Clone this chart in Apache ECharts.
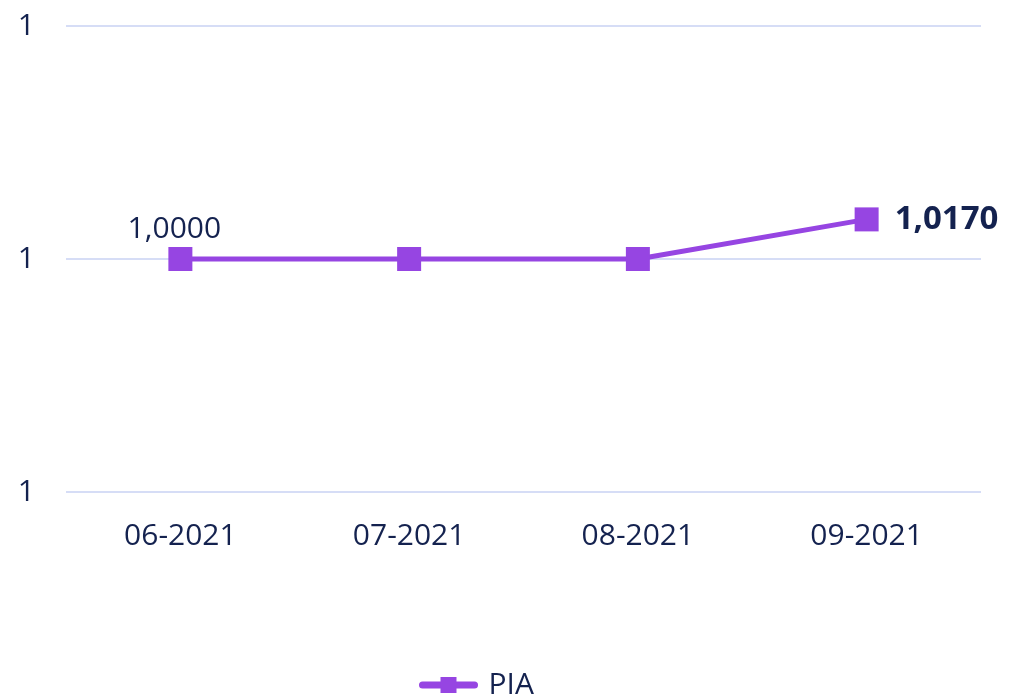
<!DOCTYPE html>
<html>
<head>
<meta charset="utf-8">
<script src="https://cdn.jsdelivr.net/npm/echarts@6/dist/echarts.min.js"></script>
<style>
  html, body { margin: 0; padding: 0; background: #fff; }
  #chart { width: 1010px; height: 697px; }
</style>
</head>
<body>
<div id="chart"></div>
<script>
const months = ['06-2021', '07-2021', '08-2021', '09-2021'];
const piaValues = [1.0, 1.0, 1.0, 1.017];

const purple = '#9645e2';
const ink = '#14224f';
const font = '"Open Sans", "Noto Sans", sans-serif';

const fmt = v => v.toFixed(4).replace('.', ',');

const chart = echarts.init(document.getElementById('chart'));

// only the first and the last point carry a label
const seriesData = piaValues.map((v, i) => {
    const item = { value: v };
    if (i === 0) {
        item.label = { show: true, position: 'top', distance: 3, offset: [-6, 0], fontWeight: 'normal' };
    } else if (i === piaValues.length - 1) {
        item.label = { show: true, position: 'right', distance: 16, fontWeight: 'bold', fontSize: 33 };
    }
    return item;
});

chart.setOption({
    animation: false,
    textStyle: { fontFamily: font, color: ink },
    grid: { left: 66, right: 29, top: 26, bottom: 205 },
    legend: {
        bottom: -8,
        left: 414,
        itemWidth: 52,
        itemHeight: 20,
        itemGap: 12,
        lineStyle: { width: 7, cap: 'round' },
        textStyle: { fontSize: 30, color: ink, fontFamily: font, padding: [0, 0, 0, 9] },
        data: ['PIA']
    },
    xAxis: {
        type: 'category',
        data: months,
        boundaryGap: true,
        axisLine: { show: false },
        axisTick: { show: false },
        axisLabel: { fontSize: 30, color: ink, margin: 29, fontFamily: font }
    },
    yAxis: {
        type: 'value',
        min: 0.9,
        max: 1.1,
        interval: 0.1,
        axisLine: { show: false },
        axisTick: { show: false },
        splitLine: { lineStyle: { color: '#d6ddf6', width: 2 } },
        axisLabel: {
            fontSize: 30, color: ink, margin: 31, fontFamily: font,
            formatter: v => v.toFixed(0)
        }
    },
    series: [{
        name: 'PIA',
        type: 'line',
        data: seriesData,
        symbol: 'rect',
        symbolSize: 24,
        color: purple,
        lineStyle: { width: 5, color: purple },
        itemStyle: { color: purple },
        label: {
            show: false,
            fontSize: 30,
            color: ink,
            fontFamily: font,
            formatter: p => fmt(p.value)
        }
    }]
});
</script>
</body>
</html>
